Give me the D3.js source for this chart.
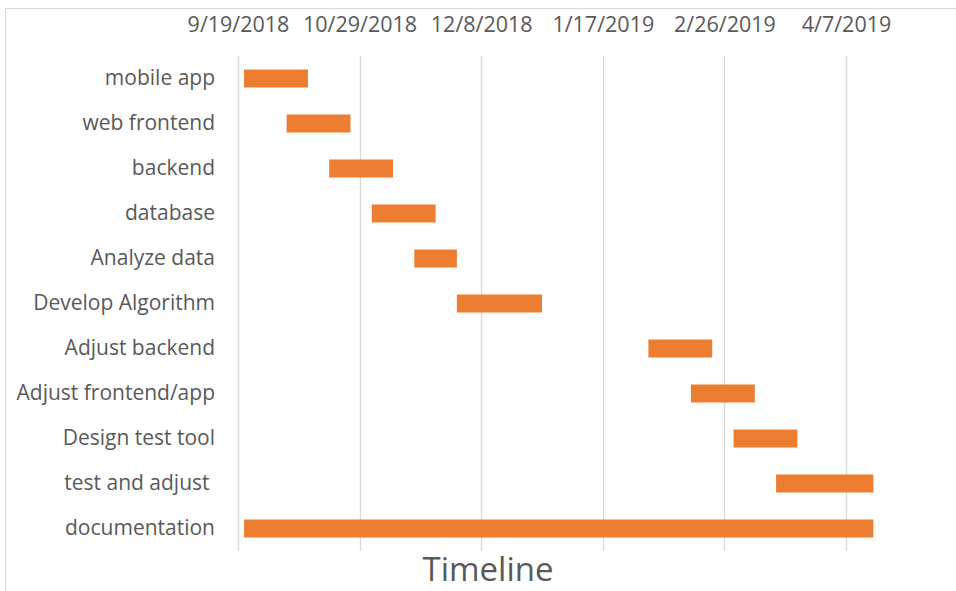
<html>
<meta charset="utf-8">
<style>
  body { margin: 0; background: #fff; }
  text { font-family: "Open Sans", sans-serif; fill: #595959; white-space: pre; }
</style>
<body>
<script src="https://d3js.org/d3.v7.min.js"></script>
<div id="chart"></div>
<script>

    // task names, top to bottom (the original label has a trailing space)
    var tasks = ["mobile app", "web frontend", "backend", "database", "Analyze data",
                 "Develop Algorithm", "Adjust backend", "Adjust frontend/app",
                 "Design test tool", "test and adjust ", "documentation"]
    var startDates = ["9/21/2018", "10/5/2018", "10/19/2018", "11/2/2018", "11/16/2018",
                      "11/30/2018", "2/1/2019", "2/15/2019", "3/1/2019", "3/15/2019", "9/21/2018"]
    var endDates = ["10/12/2018", "10/26/2018", "11/9/2018", "11/23/2018", "11/30/2018",
                    "12/28/2018", "2/22/2019", "3/8/2019", "3/22/2019", "4/16/2019", "4/16/2019"]
    // axis ticks
    var tickLabels = ["9/19/2018", "10/29/2018", "12/8/2018", "1/17/2019", "2/26/2019", "4/7/2019"]
    var axisEnd = "4/27/2019"

    var parse = d3.utcParse("%m/%d/%Y")
    var fmt = function(d) { return (d.getUTCMonth() + 1) + "/" + d.getUTCDate() + "/" + d.getUTCFullYear() }

    var width = 956, height = 591

    var svg = d3.select("#chart")
      .append("svg")
        .attr("width", width)
        .attr("height", height)

    // frame of the chart area
    svg.append("path")
      .attr("d", "M5.5,591V8.5H956")
      .attr("fill", "none")
      .attr("stroke", "#d9d9d9")
      .attr("stroke-width", 1)

    var x = d3.scaleUtc()
      .domain([parse(tickLabels[0]), parse(axisEnd)])
      .range([238, 238 + 220 * 3.04])

    var y = d3.scaleBand()
      .domain(tasks)
      .range([56, 551])
      .paddingInner(0.6)
      .paddingOuter(0.3)

    // vertical grid lines
    svg.append("g")
      .selectAll("line")
      .data(tickLabels)
      .enter()
      .append("line")
        .attr("x1", function(d) { return Math.round(x(parse(d))) + 0.5 })
        .attr("x2", function(d) { return Math.round(x(parse(d))) + 0.5 })
        .attr("y1", 56)
        .attr("y2", 551)
        .attr("stroke", "#d9d9d9")
        .attr("stroke-width", 1.3)

    // date axis on top
    var xAxis = svg.append("g")
      .attr("transform", "translate(0,38)")
      .call(d3.axisTop(x)
        .tickValues(tickLabels.map(parse))
        .tickFormat(fmt)
        .tickSize(0)
        .tickPadding(6))
    xAxis.select(".domain").remove()
    xAxis.selectAll("text")
      .style("font-size", "21.5px")
      .style("font-family", "'Open Sans', sans-serif")
      .attr("fill", "#595959")

    // task labels
    var yAxis = svg.append("g")
      .attr("transform", "translate(238,0)")
      .call(d3.axisLeft(y).tickSize(0).tickPadding(23))
    yAxis.select(".domain").remove()
    yAxis.selectAll("text")
      .style("font-size", "21px")
      .style("font-family", "'Open Sans', sans-serif")
      .attr("fill", "#595959")

    // bars
    svg.append("g")
      .selectAll("rect")
      .data(tasks)
      .enter()
      .append("rect")
        .attr("x", function(d, i) { return x(parse(startDates[i])) })
        .attr("y", function(d) { return y(d) })
        .attr("width", function(d, i) { return x(parse(endDates[i])) - x(parse(startDates[i])) })
        .attr("height", y.bandwidth())
        .attr("fill", "#ed7d31")

    // axis title
    svg.append("text")
      .attr("x", 488)
      .attr("y", 581)
      .attr("text-anchor", "middle")
      .style("font-size", "33px")
      .text("Timeline")

</script>
</body>
</html>
